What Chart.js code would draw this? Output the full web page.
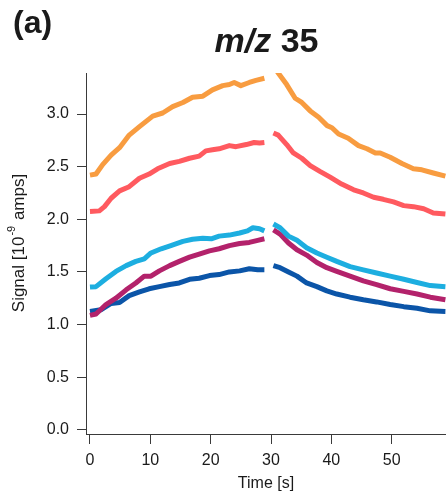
<!DOCTYPE html>
<html>
<head>
<meta charset="utf-8">
<script src="https://cdn.jsdelivr.net/npm/chart.js@4"></script>
<style>
  html, body { margin: 0; padding: 0; background: #fff; }
  #wrap { width: 446px; height: 496px; }
</style>
</head>
<body>
<div id="wrap"><canvas id="mz35" width="446" height="496"></canvas></div>
<script>
const xTicks = [0, 10, 20, 30, 40, 50];
const yTicks = [0, 0.5, 1.0, 1.5, 2.0, 2.5, 3.0];

// [time s, signal]; A = before the gap, B = after it
const orangeA = [[0,2.42],[1,2.43],[2.1,2.52],[3.5,2.61],[4.9,2.68],[6.5,2.80],[8.2,2.88],[10.4,2.98],[12.05,3.01],[13.7,3.07],[15.4,3.11],[17.0,3.16],[18.7,3.17],[20.3,3.23],[22.0,3.27],[23.1,3.28],[23.9,3.30],[25.0,3.27],[26.4,3.30],[27.5,3.32],[28.9,3.34]];
const orangeB = [[30.1,3.48],[31.2,3.39],[32.6,3.28],[34.0,3.15],[35.1,3.11],[36.5,3.03],[37.9,2.97],[39.3,2.89],[40.1,2.87],[41.2,2.81],[42.8,2.77],[44.5,2.70],[45.9,2.67],[47.3,2.63],[48.1,2.63],[49.75,2.59],[51.7,2.53],[53.6,2.48],[55.0,2.47],[56.9,2.44],[58.9,2.41]];
const redA = [[0,2.075],[1.55,2.08],[2.4,2.12],[3.5,2.20],[4.9,2.27],[6.5,2.31],[8.2,2.39],[9.8,2.43],[11.2,2.48],[13.2,2.53],[14.8,2.55],[16.5,2.58],[18.1,2.60],[19.2,2.65],[20.3,2.66],[21.4,2.67],[23.1,2.70],[24.2,2.69],[25.9,2.71],[27.2,2.73],[28.1,2.725],[28.9,2.73]];
const redB = [[30.4,2.82],[31.2,2.80],[32.6,2.71],[33.7,2.63],[35.1,2.58],[36.5,2.51],[38.1,2.455],[39.8,2.40],[41.7,2.335],[43.7,2.28],[45.3,2.25],[47.0,2.21],[48.6,2.19],[50.3,2.165],[52.0,2.13],[53.6,2.12],[55.3,2.10],[56.9,2.06],[58.9,2.05]];
const cyanA = [[0,1.356],[1.0,1.36],[2.65,1.435],[4.3,1.505],[6.0,1.56],[7.6,1.60],[9.0,1.625],[10.1,1.68],[11.8,1.72],[13.4,1.75],[15.4,1.79],[17.0,1.81],[18.7,1.82],[20.1,1.815],[21.4,1.84],[23.1,1.85],[24.8,1.87],[26.1,1.89],[27.0,1.92],[28.1,1.91],[28.9,1.89]];
const cyanB = [[30.4,1.955],[31.5,1.92],[32.9,1.84],[34.3,1.80],[35.9,1.73],[37.6,1.68],[39.25,1.64],[40.9,1.60],[43.1,1.55],[45.3,1.52],[47.5,1.49],[49.75,1.46],[52.0,1.43],[54.2,1.40],[56.4,1.37],[58.9,1.36]];
const magentaA = [[0,1.087],[1.0,1.10],[2.65,1.19],[4.3,1.25],[6.0,1.33],[7.6,1.395],[9.0,1.46],[10.1,1.46],[11.5,1.51],[13.2,1.56],[14.8,1.60],[16.5,1.64],[18.1,1.67],[19.8,1.70],[21.4,1.72],[23.1,1.75],[24.8,1.77],[26.4,1.78],[27.8,1.80],[28.9,1.815]];
const magentaB = [[30.4,1.90],[31.5,1.86],[32.9,1.775],[34.3,1.71],[35.9,1.66],[37.6,1.59],[39.25,1.54],[40.9,1.505],[43.1,1.46],[45.3,1.415],[47.5,1.38],[49.75,1.34],[52.0,1.315],[54.2,1.29],[56.4,1.26],[58.9,1.235]];
const blueA = [[0,1.125],[1.8,1.14],[3.5,1.20],[4.9,1.21],[6.5,1.275],[8.2,1.31],[9.8,1.34],[11.5,1.36],[13.2,1.38],[14.8,1.395],[16.5,1.43],[18.1,1.44],[19.8,1.465],[21.4,1.475],[23.1,1.50],[24.8,1.51],[26.4,1.53],[27.8,1.52],[28.9,1.52]];
const blueB = [[30.4,1.56],[31.5,1.54],[32.9,1.50],[34.3,1.46],[35.9,1.395],[37.6,1.36],[39.25,1.32],[40.9,1.29],[43.1,1.26],[45.3,1.235],[47.5,1.215],[49.75,1.19],[52.0,1.17],[54.2,1.155],[56.4,1.13],[58.9,1.125]];

const FONT = 'Liberation Sans, Arial, sans-serif';
const INK = '#1a1a1a';
const AXIS = '#3a3a3a';

// join the two segments with a null so the line breaks at the gap
function series(a, b) {
    return a.map(p => ({x: p[0], y: p[1]}))
        .concat([{x: 29.6, y: null}])
        .concat(b.map(p => ({x: p[0], y: p[1]})));
}

function line(label, a, b, color) {
    return {
        label: label,
        data: series(a, b),
        borderColor: color,
        backgroundColor: color,
        borderWidth: 5,
        borderJoinStyle: 'round',
        pointRadius: 0,
        tension: 0,
        clip: 0,
    };
}

const labels = {
    id: 'labels',
    afterDraw(chart) {
        const ctx = chart.ctx;
        ctx.save();
        ctx.fillStyle = INK;
        ctx.textBaseline = 'alphabetic';
        ctx.textAlign = 'left';

        ctx.font = 'bold 32px ' + FONT;
        ctx.fillText('(a)', 13, 33);

        // title, "m/z" italic
        ctx.font = 'italic bold 34px ' + FONT;
        const w1 = ctx.measureText('m/z').width;
        ctx.font = 'bold 34px ' + FONT;
        const w2 = ctx.measureText(' 35').width;
        let x0 = 266.5 - (w1 + w2) / 2;
        ctx.font = 'italic bold 34px ' + FONT;
        ctx.fillText('m/z', x0, 52);
        ctx.font = 'bold 34px ' + FONT;
        ctx.fillText(' 35', x0 + w1, 52);

        // y title with superscript
        ctx.translate(24, 243);
        ctx.rotate(-Math.PI / 2);
        ctx.font = '17px ' + FONT;
        const a = 'Signal [10', c = ' amps]';
        const wa = ctx.measureText(a).width, wc = ctx.measureText(c).width;
        ctx.font = '11px ' + FONT;
        const wb = ctx.measureText('-9').width + 2;
        let s = -(wa + wb + wc) / 2;
        ctx.font = '17px ' + FONT;
        ctx.fillText(a, s, 0);
        ctx.font = '11px ' + FONT;
        ctx.fillText('-9', s + wa + 1, -9);
        ctx.font = '17px ' + FONT;
        ctx.fillText(c, s + wa + wb, 0);
        ctx.restore();
    }
};

new Chart(document.getElementById('mz35'), {
    type: 'line',
    plugins: [labels],
    data: {
        datasets: [
            line('orange', orangeA, orangeB, '#F89C40'),
            line('red', redA, redB, '#FF5A5F'),
            line('cyan', cyanA, cyanB, '#1DAEE0'),
            line('magenta', magentaA, magentaB, '#B3226B'),
            line('blue', blueA, blueB, '#0B55A8'),
        ]
    },
    options: {
        responsive: false,
        animation: false,
        layout: { padding: { top: 73, left: 0, right: 0, bottom: 0 } },
        scales: {
            x: {
                type: 'linear',
                min: -0.66,
                max: 59,
                afterBuildTicks: s => { s.ticks = xTicks.map(v => ({value: v})); },
                afterFit: s => { s.height = 62; },
                grid: { drawOnChartArea: false, drawTicks: true, tickLength: 10, color: AXIS },
                border: { display: true, color: AXIS, width: 1 },
                ticks: { color: INK, padding: 7, maxRotation: 0, font: { size: 16, family: FONT } },
                title: { display: true, text: 'Time [s]', color: INK, padding: { top: 0, bottom: 3 }, font: { size: 16, family: FONT } },
            },
            y: {
                type: 'linear',
                min: -0.04,
                max: 3.39,
                afterBuildTicks: s => { s.ticks = yTicks.map(v => ({value: v})); },
                afterFit: s => { s.width = 86; },
                grid: { drawOnChartArea: false, drawTicks: true, tickLength: 9, color: AXIS },
                border: { display: true, color: AXIS, width: 1 },
                ticks: { color: INK, padding: 8, font: { size: 16, family: FONT }, callback: v => v.toFixed(1) },
            }
        },
        plugins: {
            legend: { display: false },
            tooltip: { enabled: false },
        },
    },
});
</script>
</body>
</html>
